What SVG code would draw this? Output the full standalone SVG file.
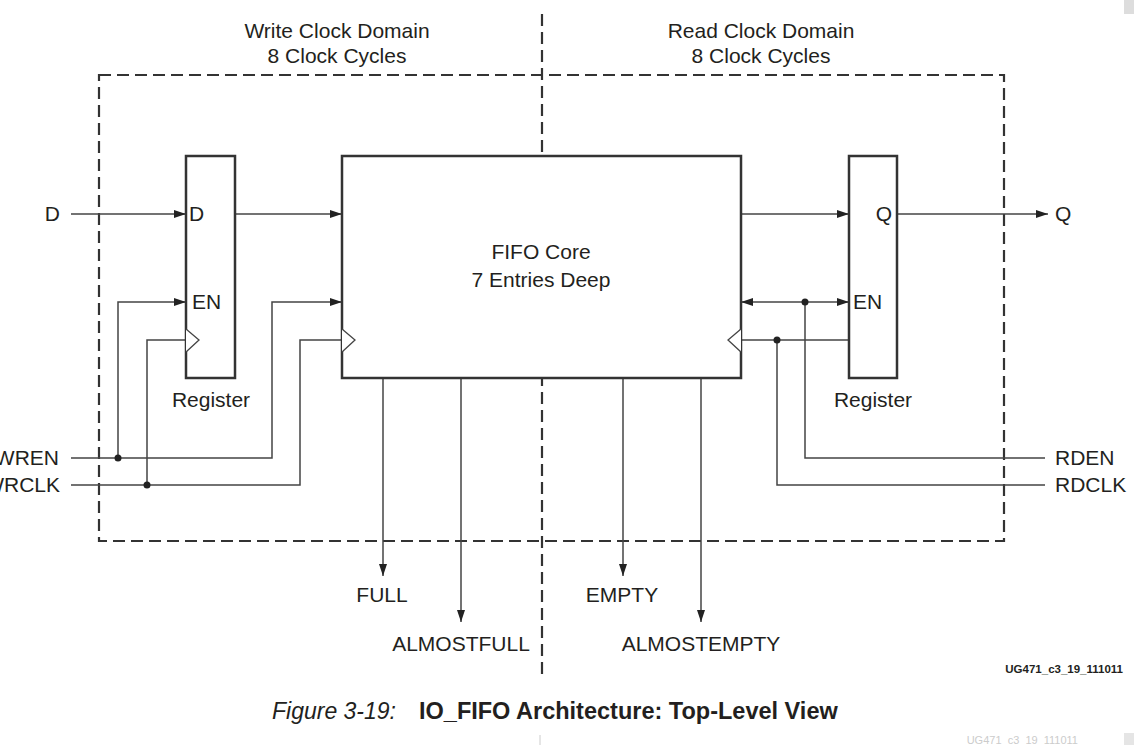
<svg xmlns="http://www.w3.org/2000/svg" width="1134" height="745" viewBox="0 0 1134 745">
<style>
text{font-family:"Liberation Sans",Arial,sans-serif;fill:#231f20;font-size:21px}
.box{fill:#fff;stroke:#333;stroke-width:2.5}
.dash{fill:none;stroke:#333;stroke-width:2.2;stroke-dasharray:12 6}
.w{fill:none;stroke:#444;stroke-width:1.5}
.a{marker-end:url(#ah)}
.clk{fill:#fff;stroke:#444;stroke-width:1.3}
.dot{fill:#222}
.c{text-anchor:middle}
.e{text-anchor:end}
</style>
<defs>
<marker id="ah" viewBox="0 0 12 8" refX="12" refY="4" markerWidth="12" markerHeight="8" markerUnits="userSpaceOnUse" orient="auto">
<path d="M0,0 L12,4 L0,8 Z" fill="#222"/>
</marker>
<marker id="ahs" viewBox="0 0 12 8" refX="0" refY="4" markerWidth="12" markerHeight="8" markerUnits="userSpaceOnUse" orient="auto">
<path d="M12,0 L0,4 L12,8 Z" fill="#222"/>
</marker>
</defs>
<rect width="1134" height="745" fill="#fff"/>
<rect x="1124" y="0" width="10" height="14" fill="#ddd"/>

<g id="domains">
<rect class="dash" x="99" y="75" width="905" height="466"/>
<line class="dash" x1="542" y1="14" x2="542" y2="680"/>
<text class="c" x="337" y="38">Write Clock Domain</text>
<text class="c" x="337" y="63">8 Clock Cycles</text>
<text class="c" x="761" y="38">Read Clock Domain</text>
<text class="c" x="761" y="63">8 Clock Cycles</text>
</g>

<g id="connectors">
<line class="w a" x1="71" y1="214" x2="186" y2="214"/>
<line class="w a" x1="236" y1="214" x2="342" y2="214"/>
<polyline class="w a" points="71,458 272,458 272,302 342,302"/>
<polyline class="w a" points="118,458 118,302 186,302"/>
<polyline class="w" points="71,485 300,485 300,340 342,340"/>
<polyline class="w" points="147,485 147,340 186,340"/>
<circle class="dot" cx="118" cy="458" r="3.5"/>
<circle class="dot" cx="147" cy="485" r="3.5"/>
<line class="w a" x1="741" y1="214" x2="849" y2="214"/>
<line class="w a" x1="897" y1="214" x2="1048" y2="214"/>
<line class="w a" x1="741" y1="302" x2="849" y2="302" style="marker-start:url(#ahs)"/>
<polyline class="w" points="1045,458 805,458 805,302"/>
<line class="w" x1="741" y1="340" x2="849" y2="340"/>
<polyline class="w" points="1045,485 777,485 777,340"/>
<circle class="dot" cx="805" cy="302" r="3.5"/>
<circle class="dot" cx="777" cy="340" r="3.5"/>
<line class="w a" x1="383" y1="378" x2="383" y2="576"/>
<line class="w a" x1="461" y1="378" x2="461" y2="622"/>
<line class="w a" x1="623" y1="378" x2="623" y2="576"/>
<line class="w a" x1="701" y1="378" x2="701" y2="622"/>
</g>

<g id="reg_write">
<rect class="box" x="186" y="156" width="49" height="222"/>
<polyline class="clk" points="186,329 199,340 186,352"/>
<text x="189" y="221">D</text>
<text x="192" y="309">EN</text>
<text class="c" x="211" y="407">Register</text>
</g>

<g id="fifo_core">
<rect class="box" x="342" y="156" width="399" height="222"/>
<polyline class="clk" points="342,329 355,340 342,352"/>
<polyline class="clk" points="741,329 728,340 741,352"/>
<text class="c" x="541" y="259">FIFO Core</text>
<text class="c" x="541" y="287">7 Entries Deep</text>
</g>

<g id="reg_read">
<rect class="box" x="849" y="156" width="48" height="222"/>
<text class="e" x="892" y="221">Q</text>
<text x="853" y="309">EN</text>
<text class="c" x="873" y="407">Register</text>
</g>

<g id="ports">
<text class="e" x="60" y="221">D</text>
<text class="e" x="59" y="465">WREN</text>
<text class="e" x="60" y="492">WRCLK</text>
<text x="1055" y="221">Q</text>
<text x="1055" y="465">RDEN</text>
<text x="1055" y="492">RDCLK</text>
<text class="c" x="382" y="602">FULL</text>
<text class="c" x="461" y="651">ALMOSTFULL</text>
<text class="c" x="622" y="602">EMPTY</text>
<text class="c" x="701" y="651">ALMOSTEMPTY</text>
</g>

<g id="caption">
<text x="1123" y="673" class="e" style="font-size:11.5px;font-weight:bold">UG471_c3_19_111011</text>
<text x="272" y="719" style="font-style:italic;font-size:23px">Figure 3-19:</text>
<text x="419" y="719" style="font-weight:bold;font-size:23.5px">IO_FIFO Architecture: Top-Level View</text>
<line x1="540" y1="735" x2="540" y2="745" stroke="#ccc" stroke-width="1"/>
<text x="1078" y="744" class="e" style="font-size:11px;fill:#ccc">UG471_c3_19_111011</text>
<rect x="1124" y="733" width="10" height="12" fill="#e5e5e5"/>
</g>
</svg>
